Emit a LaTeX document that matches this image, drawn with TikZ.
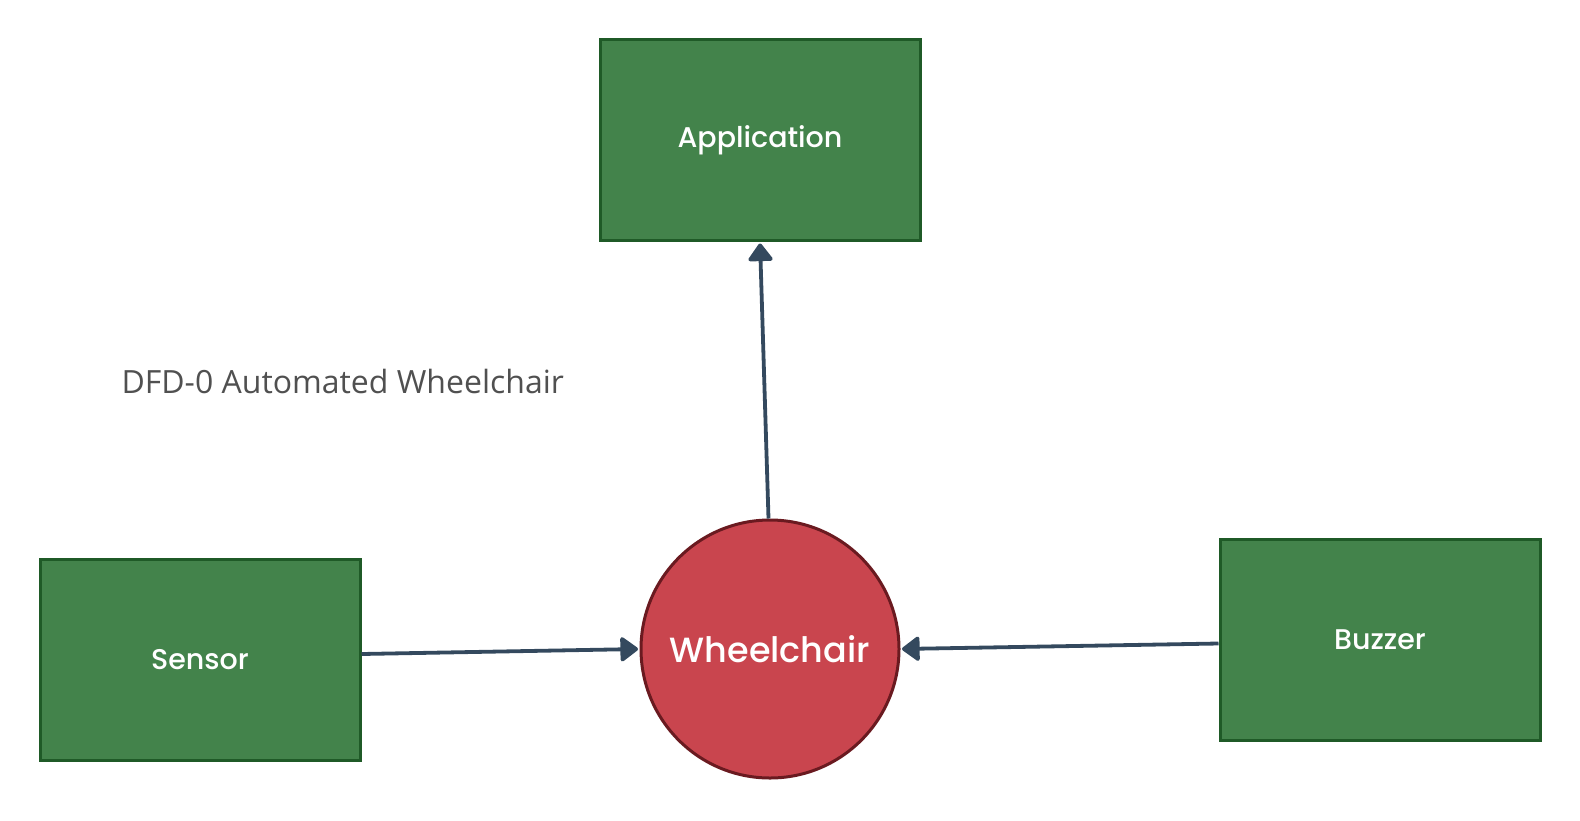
\documentclass[tikz,border=0pt]{standalone}
\usepackage{fontspec}
\setmainfont{Open Sans}
\newfontfamily\lblfont{Poppins Medium}
\usetikzlibrary{arrows.meta}
\definecolor{boxfill}{HTML}{43834B}
\definecolor{boxline}{HTML}{1F5A27}
\definecolor{circfill}{HTML}{C9454E}
\definecolor{circline}{HTML}{6A1A20}
\definecolor{arrowc}{HTML}{34495E}
\definecolor{titlec}{HTML}{505050}
\tikzset{
  entity/.style={draw=boxline, fill=boxfill, line width=3pt, minimum width=320pt, minimum height=201pt, inner sep=0pt, text=white, font=\lblfont\fontsize{28.5}{30}\selectfont},
  process/.style={circle, draw=circline, fill=circfill, line width=3pt, minimum size=258pt, inner sep=0pt, text=white, font=\lblfont\fontsize{35}{38}\selectfont},
  flow/.style={draw=arrowc, line width=3.8pt, -{Triangle[length=19pt,width=27pt,round]}, shorten >=1.5pt}
}
\begin{document}
\begin{tikzpicture}[x=1pt,y=-1pt]
\useasboundingbox (0,0) rectangle (1580,820);
\node[entity] (app) at (760,140) {Application};
\node[entity] (sen) at (200,660) {Sensor};
\node[entity] (buz) at (1380,639.5) {Buzzer};
\node[process] (w) at (770,649) {Wheelchair};
\node[anchor=base west, text=titlec, font=\fontsize{32}{34}\selectfont] (title) at (118,393) {DFD-0 Automated Wheelchair};
\draw[flow] ([yshift=6pt]sen.east) -- (w.west);
\draw[flow] ([yshift=-4pt]buz.west) -- (w.east);
\draw[flow] ([xshift=-1.5pt]w.north) -- (app.south);
\end{tikzpicture}
\end{document}
